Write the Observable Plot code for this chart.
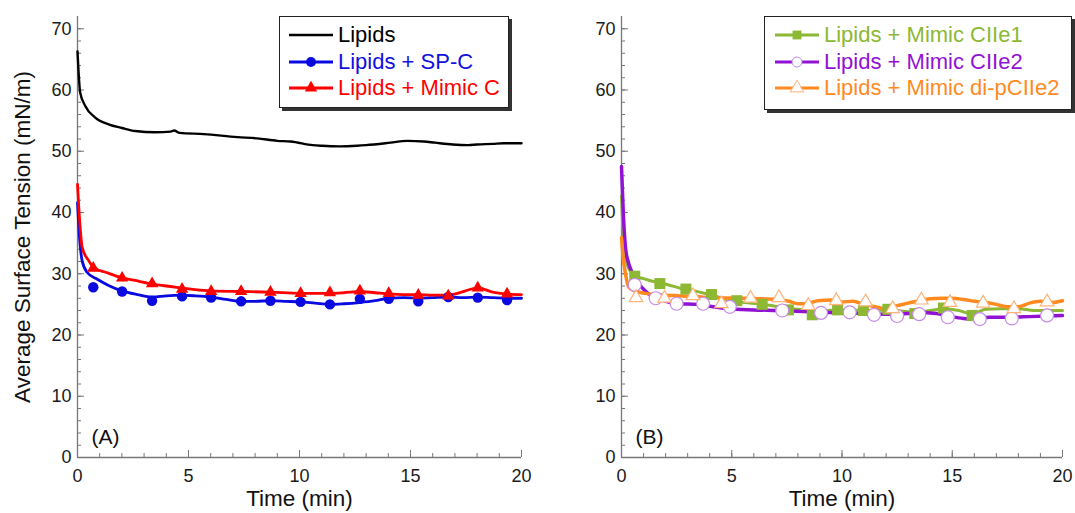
<!DOCTYPE html>
<html><head><meta charset="utf-8">
<script src="https://cdn.jsdelivr.net/npm/d3@7"></script>
<script src="https://cdn.jsdelivr.net/npm/@observablehq/plot@0.6"></script>
<style>
html,body{margin:0;padding:0;background:#fff;}
#wrap{position:relative;width:1075px;height:513px;display:flex;font-family:"Liberation Sans",Arial,sans-serif;}
#wrap svg{display:block;}
.legend{position:absolute;background:#fff;border:1px solid #222;box-shadow:3px 3px 0 #333;box-sizing:border-box;font-size:22px;padding-top:5px;}
.row{display:flex;align-items:center;height:26.5px;white-space:nowrap;}
.row svg{flex:none;margin-right:5px;}
</style></head><body><div id="wrap"></div>
<script>
const FONT = '"Liberation Sans", Arial, sans-serif';

// ---- Panel A data ----
const tLipids = [0, 0.12, 0.35, 0.8, 1.4, 2.0, 2.6, 3.5, 4.2, 4.35, 4.6, 5.7, 7.2, 8.1, 9.0, 9.6, 10.6, 11.0, 11.8, 12.6, 13.0, 14.1, 14.85, 15.6, 16.1, 16.9, 17.6, 18.0, 18.7, 19.2, 20];
const vLipids = [66.3, 59.6, 57.4, 55.5, 54.4, 53.8, 53.3, 53.1, 53.2, 53.4, 53.0, 52.8, 52.3, 52.1, 51.7, 51.6, 51.0, 50.9, 50.8, 50.9, 51.0, 51.4, 51.7, 51.6, 51.4, 51.1, 51.0, 51.1, 51.2, 51.3, 51.3];

const tSPC = [0, 0.1, 0.21, 0.44, 0.89, 1.4, 2.0, 2.7, 3.36, 4.0, 4.64, 5.3, 6.0, 6.7, 7.34, 8.0, 8.7, 9.4, 10.05, 10.7, 11.37, 12.0, 12.7, 13.4, 14.0, 14.7, 15.35, 16.0, 16.7, 17.4, 18.0, 18.7, 19.35, 20];
const vSPC = [41.6, 35.5, 32.1, 30.2, 29.1, 28.1, 27.2, 26.6, 26.2, 26.4, 26.5, 26.4, 26.2, 25.8, 25.5, 25.5, 25.6, 25.5, 25.4, 25.2, 25.0, 25.1, 25.3, 25.6, 26.0, 26.1, 26.0, 26.1, 26.2, 26.1, 26.2, 26.1, 26.0, 26.0];
const tSPCm = [0.71, 2.01, 3.36, 4.71, 6.02, 7.37, 8.69, 10.05, 11.37, 12.72, 14.02, 15.35, 16.7, 18.03, 19.35];
const vSPCm = [27.8, 27.1, 25.6, 26.3, 26.1, 25.5, 25.6, 25.4, 25.0, 25.9, 25.9, 25.5, 26.2, 26.1, 25.7];

const tMC = [0, 0.1, 0.21, 0.51, 0.73, 1.3, 1.94, 2.6, 3.29, 4.0, 4.64, 5.3, 5.99, 7.34, 8.69, 10.05, 11.37, 12.0, 12.72, 13.4, 14.02, 14.7, 15.35, 16.0, 16.7, 17.3, 18.03, 18.7, 19.35, 20];
const vMC = [44.6, 38.5, 34.3, 32.1, 31.0, 30.2, 29.4, 28.9, 28.4, 28.0, 27.7, 27.4, 27.2, 27.1, 27.0, 26.8, 26.8, 26.9, 27.1, 26.9, 26.7, 26.6, 26.6, 26.5, 26.5, 27.0, 27.7, 27.0, 26.7, 26.6];
const tMCm = [0.71, 2.01, 3.36, 4.71, 6.02, 7.37, 8.69, 10.05, 11.37, 12.72, 14.02, 15.35, 16.7, 18.03, 19.35];
const vMCm = [30.9, 29.3, 28.4, 27.5, 27.1, 27.1, 27.0, 26.8, 26.9, 27.2, 26.8, 26.5, 26.4, 27.7, 26.7];

// ---- Panel B data ----
const tC1 = [0, 0.08, 0.18, 0.48, 0.6, 1.0, 1.5, 2.1, 2.7, 3.3, 3.9, 4.5, 5.0, 5.6, 6.2, 6.8, 7.4, 8.0, 8.6, 9.2, 9.8, 10.4, 11.0, 11.5, 12.1, 12.7, 13.3, 14.0, 14.6, 15.3, 15.9, 16.5, 17.2, 18.0, 18.7, 19.4, 20];
const vC1 = [42.7, 36.0, 32.5, 30.0, 29.6, 29.2, 28.7, 28.2, 27.6, 27.2, 26.7, 26.1, 25.6, 25.3, 25.1, 24.8, 24.4, 24.2, 24.0, 24.0, 24.1, 24.1, 24.0, 24.0, 24.1, 23.9, 23.7, 24.0, 24.3, 24.0, 23.4, 24.2, 24.3, 24.3, 24.0, 24.0, 24.0];
const tC1m = [0.6, 1.74, 2.92, 4.08, 5.23, 6.38, 7.57, 8.65, 9.8, 10.97, 12.08, 13.3, 14.6, 15.9];
const vC1m = [29.6, 28.4, 27.5, 26.6, 25.6, 25.0, 24.1, 23.3, 24.1, 24.0, 24.2, 23.5, 24.4, 23.2];

const tC2 = [0, 0.08, 0.18, 0.3, 0.48, 0.7, 0.91, 1.2, 1.5, 2.0, 2.55, 3.45, 4.0, 4.8, 6.0, 7.1, 8.5, 10.0, 11.0, 12.0, 13.0, 13.5, 14.0, 14.5, 15.0, 15.5, 16.0, 16.7, 17.5, 18.5, 19.3, 20];
const vC2 = [47.5, 40.0, 34.3, 32.0, 30.2, 28.8, 27.8, 26.8, 26.1, 25.5, 25.1, 25.0, 24.7, 24.3, 24.1, 24.0, 23.8, 23.6, 23.5, 23.4, 23.5, 23.7, 23.6, 23.4, 23.0, 22.7, 22.6, 22.9, 22.9, 23.0, 23.1, 23.2];
const tC2m = [0.6, 1.55, 2.5, 3.7, 4.91, 7.29, 9.05, 10.35, 11.45, 12.5, 13.5, 14.8, 16.25, 17.7, 19.3];
const vC2m = [28.2, 26.0, 25.1, 25.1, 24.6, 24.0, 23.6, 23.7, 23.3, 23.1, 23.4, 22.9, 22.6, 22.7, 23.2];

const tDP = [0, 0.08, 0.18, 0.33, 0.6, 1.1, 2.0, 2.6, 4.1, 5.6, 7.1, 7.6, 8.0, 8.5, 8.9, 9.5, 10.0, 10.5, 11.0, 11.5, 12.0, 12.5, 13.0, 13.5, 14.0, 14.5, 15.0, 15.5, 16.0, 16.5, 17.0, 17.5, 18.0, 18.5, 19.0, 19.5, 20];
const vDP = [35.9, 32.5, 30.0, 27.8, 27.2, 26.8, 26.5, 26.4, 26.1, 26.0, 25.8, 25.5, 25.1, 25.2, 25.6, 25.7, 25.4, 25.5, 25.0, 24.6, 24.3, 24.8, 25.2, 25.6, 25.9, 26.0, 26.0, 25.8, 25.5, 25.3, 25.0, 24.6, 24.6, 25.2, 25.5, 25.3, 25.6];
const tDPm = [0.66, 1.95, 3.24, 4.53, 5.85, 7.14, 8.47, 9.74, 11.07, 12.3, 13.6, 14.9, 16.4, 17.8, 19.3];
const vDPm = [26.1, 26.0, 26.4, 25.1, 26.0, 26.1, 24.8, 25.6, 25.4, 24.3, 25.7, 25.3, 25.2, 24.3, 25.4];

// ---- axes / labels ----
const xMajor = [0, 5, 10, 15, 20];
const xMinor = d3.range(0, 21, 1);
const yMajor = [0, 10, 20, 30, 40, 50, 60, 70];
const yMinor = d3.range(0, 72, 2);
const xTitle = "Time (min)";
const yTitle = "Average Surface Tension (mN/m)";

const seriesA = [
  {name: "Lipids", color: "#000000", text: "#000000", width: 2.4, symbol: null},
  {name: "Lipids + SP-C", color: "#0a0ae0", text: "#1010e0", width: 2.8, symbol: "circle", fill: "#0a0ae0", stroke: "none", r: 5.2},
  {name: "Lipids + Mimic C", color: "#ff0000", text: "#ff0000", width: 2.8, symbol: "triangle", fill: "#ff0000", stroke: "none", r: 4.6}
];
const seriesB = [
  {name: "Lipids + Mimic CIIe1", color: "#8cb833", text: "#8cb833", width: 3, symbol: "square", fill: "#8cb833", stroke: "none", r: 6.2},
  {name: "Lipids + Mimic CIIe2", color: "#9212d4", text: "#9212d4", width: 3.5, symbol: "circle", fill: "#ffffff", stroke: "#c48ae8", r: 6.5},
  {name: "Lipids + Mimic di-pCIIe2", color: "#ff8a1f", text: "#ff8a1f", width: 3.5, symbol: "triangle", fill: "#ffffff", stroke: "#ffb27a", r: 5}
];

const rows = (t, v) => t.map((d, i) => ({t: d, v: v[i]}));

function panel({width, marginLeft, marginRight, lineSets, markSets, letter, showYTitle}) {
  const marks = [
    Plot.axisY(yMinor, {tickSize: -4, tickFormat: () => "", stroke: "#777", label: null}),
    Plot.axisY(yMajor, {tickSize: -7, tickFormat: () => "", stroke: "#777", label: null}),
    Plot.axisY(yMajor, {tickSize: 0, tickPadding: 6, fill: "#1a1a1a", label: null, fontSize: 18}),
    Plot.axisX(xMinor, {tickSize: -4, tickFormat: () => "", stroke: "#777", label: null}),
    Plot.axisX(xMajor, {tickSize: -7, tickFormat: () => "", stroke: "#777", label: null}),
    Plot.axisX(xMajor, {tickSize: 0, tickPadding: 12, fill: "#1a1a1a", label: null, fontSize: 18}),
    Plot.ruleX([0], {stroke: "#777", strokeWidth: 1.3}),
    Plot.ruleY([0], {stroke: "#777", strokeWidth: 1.3}),
    Plot.text([xTitle], {frameAnchor: "bottom", lineAnchor: "middle", textAnchor: "middle", dy: 41, fontSize: 22.5, fill: "#111"}),
    Plot.text([letter], {frameAnchor: "bottom-left", lineAnchor: "middle", dx: 14, dy: -20, textAnchor: "start", fontSize: 21, fill: "#111"})
  ];
  if (showYTitle) marks.push(Plot.text([yTitle], {frameAnchor: "left", rotate: -90, textAnchor: "middle", lineAnchor: "middle", dx: -55, fontSize: 22.5, fill: "#111"}));
  for (const s of lineSets) {
    marks.push(Plot.line(rows(s.t, s.v), {x: "t", y: "v", stroke: s.color, strokeWidth: s.width, curve: "monotone-x"}));
  }
  for (const s of markSets) {
    marks.push(Plot.dot(rows(s.t, s.v), {x: "t", y: "v", symbol: s.symbol, r: s.r, fill: s.fill, stroke: s.stroke, strokeWidth: 1.2}));
  }
  return Plot.plot({
    width, height: 513, marginLeft, marginRight, marginTop: 16, marginBottom: 56,
    style: {fontFamily: FONT, fontSize: "18px", background: "white", overflow: "visible"},
    x: {domain: [0, 20]},
    y: {domain: [0, 72]},
    marks
  });
}

const wrap = document.getElementById("wrap");
wrap.appendChild(panel({
  width: 537, marginLeft: 77, marginRight: 16, letter: "(A)", showYTitle: true,
  lineSets: [
    {...seriesA[0], t: tLipids, v: vLipids},
    {...seriesA[1], t: tSPC, v: vSPC},
    {...seriesA[2], t: tMC, v: vMC}
  ],
  markSets: [
    {...seriesA[1], t: tSPCm, v: vSPCm},
    {...seriesA[2], t: tMCm, v: vMCm}
  ]
}));
wrap.appendChild(panel({
  width: 538, marginLeft: 84, marginRight: 13, letter: "(B)", showYTitle: false,
  lineSets: [
    {...seriesB[0], t: tC1, v: vC1},
    {...seriesB[1], t: tC2, v: vC2},
    {...seriesB[2], t: tDP, v: vDP}
  ],
  markSets: [
    {...seriesB[0], t: tC1m, v: vC1m},
    {...seriesB[1], t: tC2m, v: vC2m},
    {...seriesB[2], t: tDPm, v: vDPm}
  ]
}));

function symbolPath(sym, r) {
  const map = {circle: d3.symbolCircle, triangle: d3.symbolTriangle, square: d3.symbolSquare};
  return d3.symbol(map[sym], Math.PI * r * r)();
}
function legend(series, box) {
  const div = document.createElement("div");
  div.className = "legend";
  Object.assign(div.style, {left: box.left + "px", top: box.top + "px", width: box.width + "px", height: box.height + "px", paddingLeft: box.pad + "px"});
  for (const s of series) {
    const row = document.createElement("div");
    row.className = "row";
    const r = s.symbol ? Math.min(s.r, 5) : 0;
    let svg = `<svg width="44" height="20" viewBox="0 0 44 20"><line x1="0" x2="44" y1="10" y2="10" stroke="${s.color}" stroke-width="${Math.min(s.width, 3)}"/>`;
    if (s.symbol) svg += `<path transform="translate(22,10)" d="${symbolPath(s.symbol, r)}" fill="${s.fill}" stroke="${s.stroke}" stroke-width="1"/>`;
    svg += `</svg>`;
    row.innerHTML = svg + `<span style="color:${s.text}">${s.name}</span>`;
    div.appendChild(row);
  }
  wrap.appendChild(div);
}
legend(seriesA, {left: 279, top: 16, width: 230, height: 92, pad: 9});
legend(seriesB, {left: 764, top: 16, width: 308, height: 94, pad: 10});
</script>
</body></html>
